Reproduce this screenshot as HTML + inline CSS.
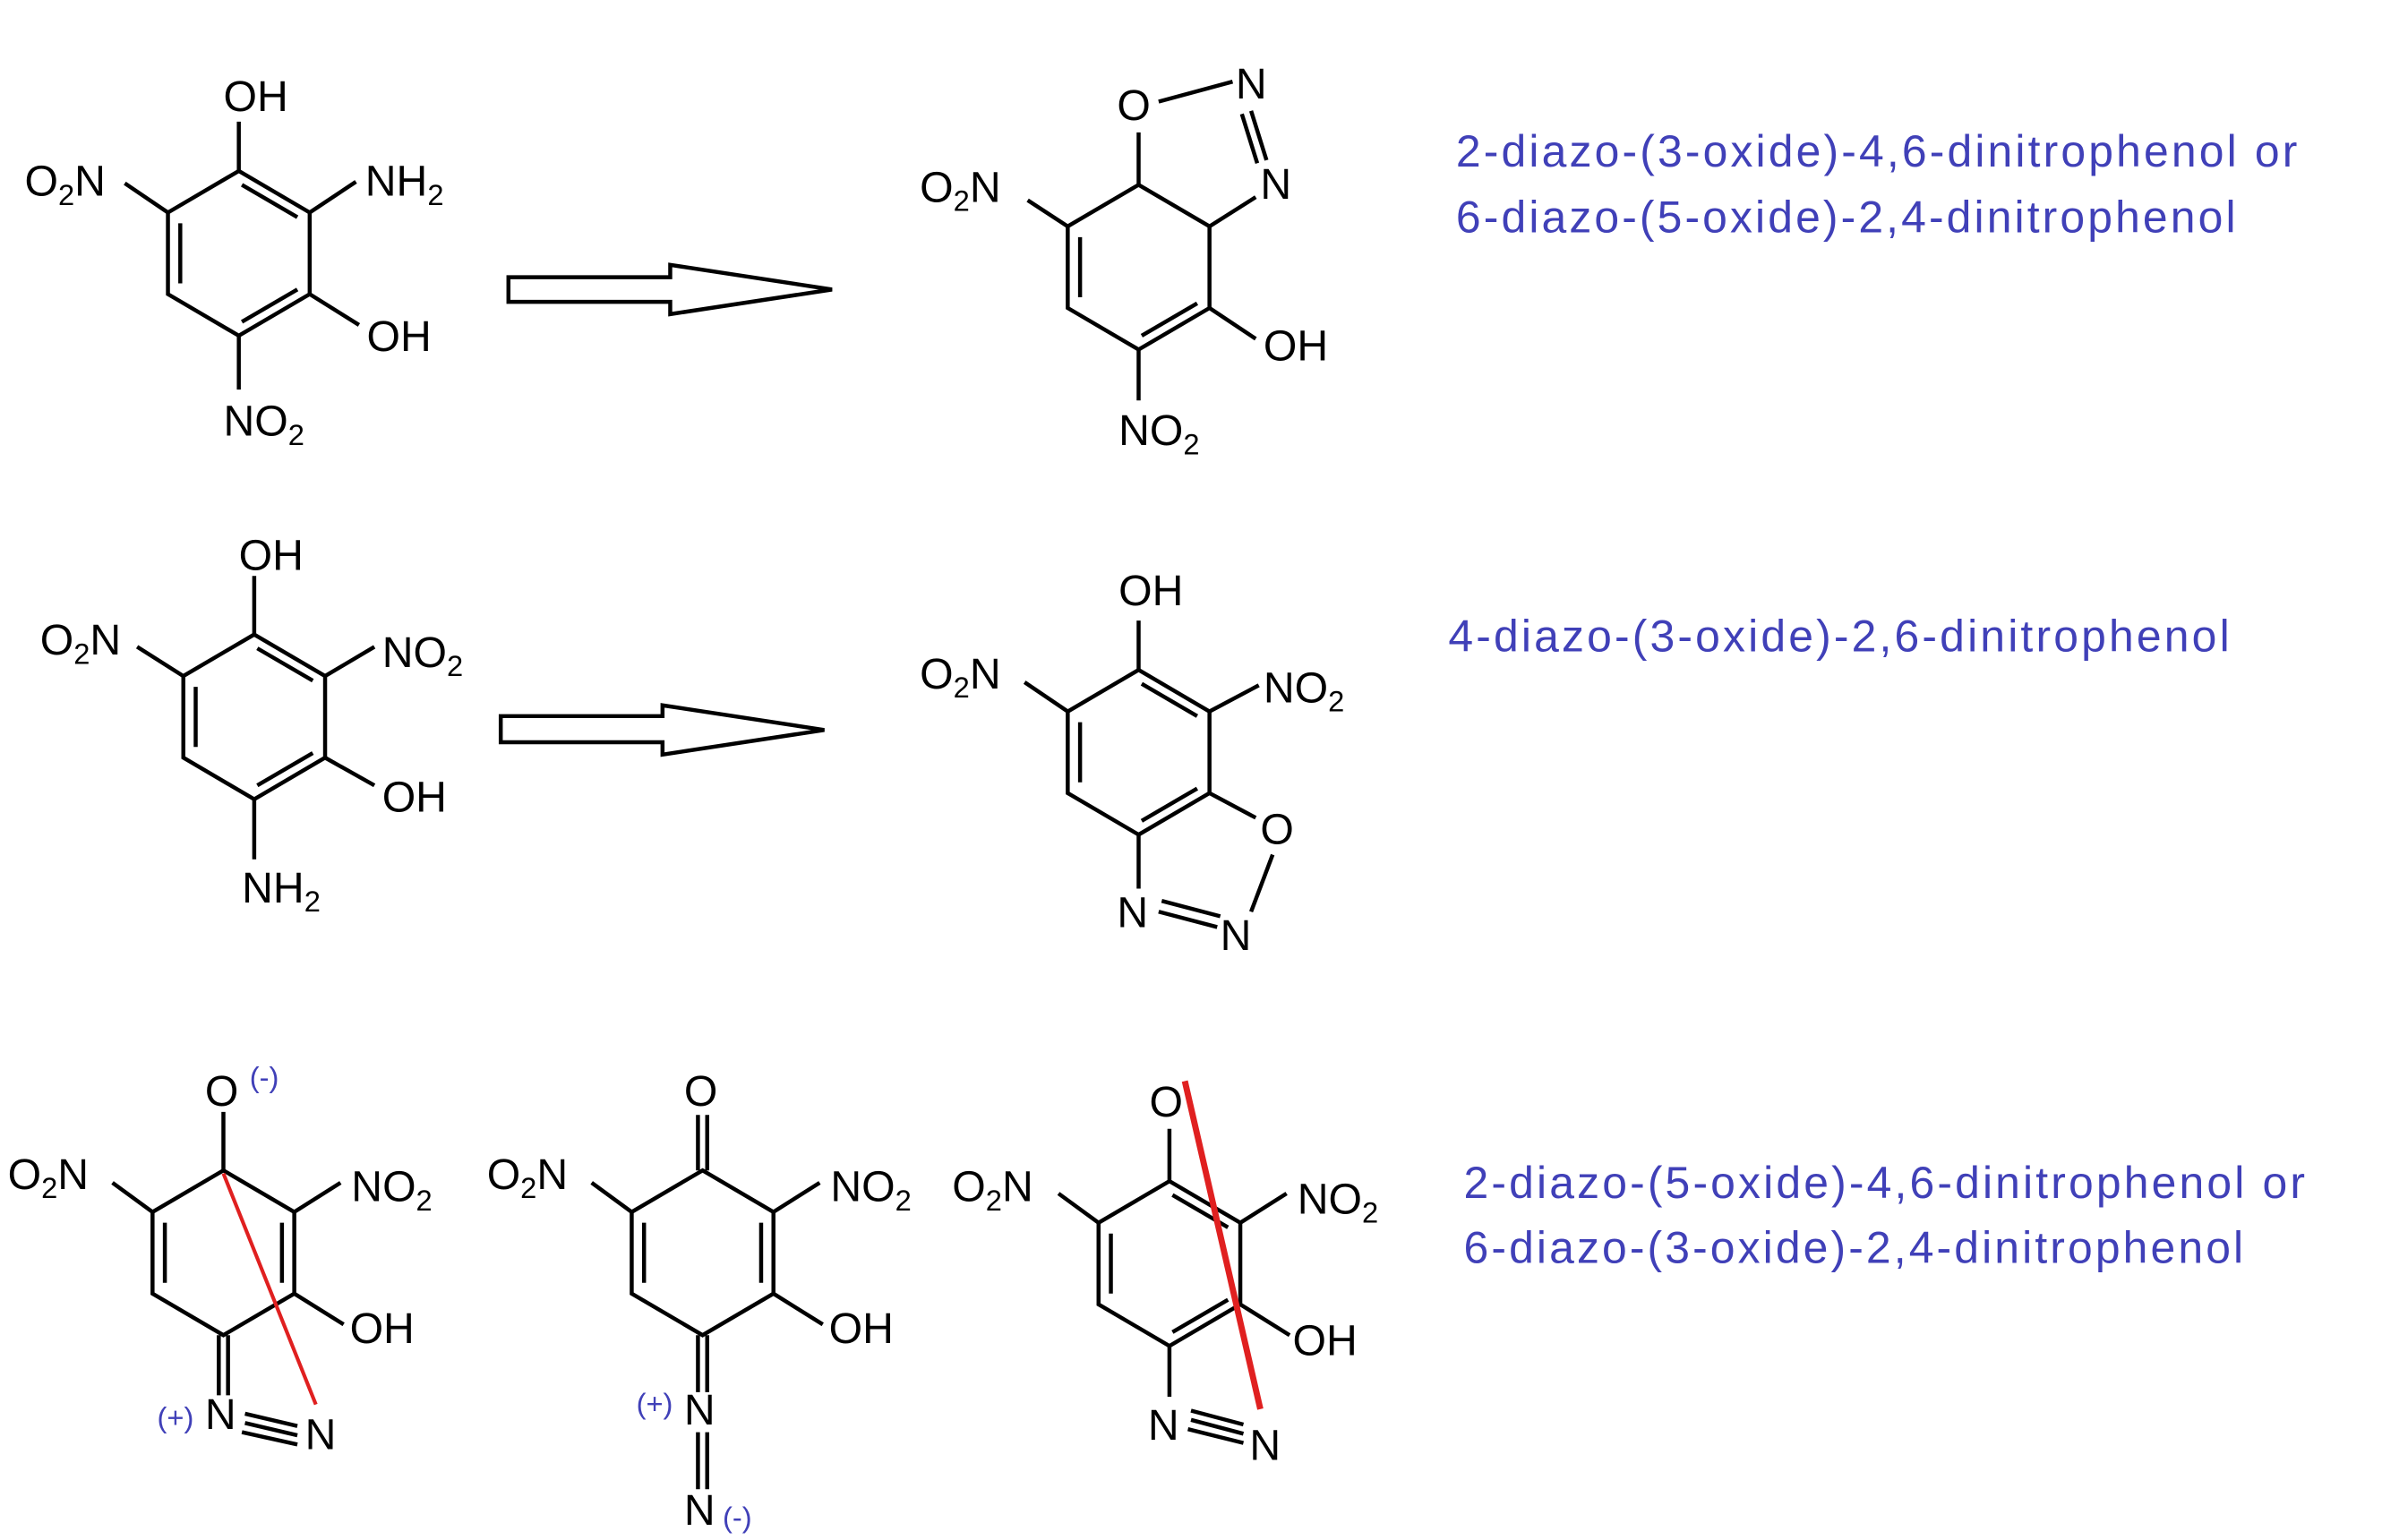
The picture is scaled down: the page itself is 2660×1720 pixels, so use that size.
<!DOCTYPE html>
<html><head><meta charset="utf-8"><style>
html,body{margin:0;padding:0;background:#fff;width:2660px;height:1720px;overflow:hidden}
svg{display:block}
.a{font-family:"Liberation Sans",sans-serif;font-size:28px;fill:#000}
.s{font-size:19px}
.b{font-family:"Liberation Sans",sans-serif;font-size:29px;fill:#4040b8}
.c{font-family:"Liberation Sans",sans-serif;font-size:19px;fill:#4040b8}
line,path,polyline{stroke:#000;stroke-width:2.6;fill:none}
</style></head><body>
<svg width="2660" height="1720" viewBox="0 0 1546 1000" preserveAspectRatio="none">
<defs>
<g id="ringA">
<path d="M0,0 L46,27 L46,80 L0,107 L-46,80 L-46,27 Z"/>
</g>
</defs>

<!-- Molecule 1 -->
<g transform="translate(155,111)">
<use href="#ringA"/>
<line x1="2" y1="9" x2="38" y2="30"/>
<line x1="38" y1="77" x2="2" y2="98"/>
<line x1="-38" y1="34" x2="-38" y2="73"/>
<line x1="0" y1="0" x2="0" y2="-32"/>
<line x1="-46" y1="27" x2="-74" y2="8"/>
<line x1="46" y1="27" x2="76" y2="7"/>
<line x1="46" y1="80" x2="78" y2="100"/>
<line x1="0" y1="107" x2="0" y2="142"/>
</g>
<text class="a" x="145" y="72">OH</text>
<text class="a" x="16" y="127">O<tspan class="s" dy="6">2</tspan><tspan dy="-6">N</tspan></text>
<text class="a" x="237" y="127">NH<tspan class="s" dy="6">2</tspan></text>
<text class="a" x="238" y="228">OH</text>
<text class="a" x="145" y="283">NO<tspan class="s" dy="6">2</tspan></text>

<!-- Arrow 1 -->
<path d="M330,180 L435,180 L435,172 L540,188 L435,204 L435,196 L330,196 Z"/>

<!-- Molecule 2 -->
<g transform="translate(739,120)">
<use href="#ringA"/>
<line x1="-38" y1="34" x2="-38" y2="73"/>
<line x1="38" y1="77" x2="2" y2="98"/>
<line x1="0" y1="0" x2="0" y2="-34"/>
<line x1="-46" y1="27" x2="-72" y2="10"/>
<line x1="46" y1="80" x2="76" y2="100"/>
<line x1="0" y1="107" x2="0" y2="140"/>
<line x1="46" y1="27" x2="76" y2="8"/>
</g>
<text class="a" x="725" y="78">O</text>
<text class="a" x="802" y="64">N</text>
<text class="a" x="818" y="129">N</text>
<line x1="752" y1="66" x2="800" y2="53"/>
<line x1="812" y1="72" x2="822" y2="104"/>
<line x1="806" y1="74" x2="816" y2="106"/>
<text class="a" x="597" y="131">O<tspan class="s" dy="6">2</tspan><tspan dy="-6">N</tspan></text>
<text class="a" x="820" y="234">OH</text>
<text class="a" x="726" y="289">NO<tspan class="s" dy="6">2</tspan></text>

<text class="b" x="945" y="108" textLength="546">2-diazo-(3-oxide)-4,6-dinitrophenol or</text>
<text class="b" x="945" y="151" textLength="506">6-diazo-(5-oxide)-2,4-dinitrophenol</text>

<!-- Molecule 3 -->
<g transform="translate(165,412)">
<use href="#ringA"/>
<line x1="2" y1="9" x2="38" y2="30"/>
<line x1="38" y1="77" x2="2" y2="98"/>
<line x1="-38" y1="34" x2="-38" y2="73"/>
<line x1="0" y1="0" x2="0" y2="-38"/>
<line x1="-46" y1="27" x2="-76" y2="8"/>
<line x1="46" y1="27" x2="78" y2="8"/>
<line x1="46" y1="80" x2="78" y2="98"/>
<line x1="0" y1="107" x2="0" y2="146"/>
</g>
<text class="a" x="155" y="370">OH</text>
<text class="a" x="26" y="425">O<tspan class="s" dy="6">2</tspan><tspan dy="-6">N</tspan></text>
<text class="a" x="248" y="433">NO<tspan class="s" dy="6">2</tspan></text>
<text class="a" x="248" y="527">OH</text>
<text class="a" x="157" y="586">NH<tspan class="s" dy="6">2</tspan></text>

<!-- Arrow 2 -->
<path d="M325,465 L430,465 L430,458 L535,474 L430,490 L430,482 L325,482 Z"/>

<!-- Molecule 4 -->
<g transform="translate(739,435)">
<use href="#ringA"/>
<line x1="2" y1="9" x2="38" y2="30"/>
<line x1="38" y1="77" x2="2" y2="98"/>
<line x1="-38" y1="34" x2="-38" y2="73"/>
<line x1="0" y1="0" x2="0" y2="-32"/>
<line x1="-46" y1="27" x2="-74" y2="8"/>
<line x1="46" y1="27" x2="78" y2="10"/>
<line x1="46" y1="80" x2="76" y2="96"/>
<line x1="0" y1="107" x2="0" y2="142"/>
</g>
<text class="a" x="726" y="393">OH</text>
<text class="a" x="597" y="447">O<tspan class="s" dy="6">2</tspan><tspan dy="-6">N</tspan></text>
<text class="a" x="820" y="456">NO<tspan class="s" dy="6">2</tspan></text>
<text class="a" x="818" y="548">O</text>
<text class="a" x="725" y="602">N</text>
<text class="a" x="792" y="617">N</text>
<line x1="826" y1="555" x2="812" y2="592"/>
<line x1="752" y1="592" x2="790" y2="602"/>
<line x1="754" y1="585" x2="792" y2="595"/>

<text class="b" x="940" y="423" textLength="507">4-diazo-(3-oxide)-2,6-dinitrophenol</text>

<!-- Molecule 5 -->
<g transform="translate(145,760)">
<use href="#ringA"/>
<line x1="38" y1="34" x2="38" y2="73"/>
<line x1="-38" y1="34" x2="-38" y2="73"/>
<line x1="0" y1="0" x2="0" y2="-38"/>
<line x1="-46" y1="27" x2="-72" y2="8"/>
<line x1="46" y1="27" x2="76" y2="8"/>
<line x1="46" y1="80" x2="78" y2="100"/>
<line x1="-3" y1="107" x2="-3" y2="146"/>
<line x1="3" y1="107" x2="3" y2="146"/>
<line x1="14" y1="164" x2="48" y2="172"/>
<line x1="12" y1="170" x2="48" y2="178"/>
<line x1="14" y1="158" x2="48" y2="166"/>
</g>
<text class="a" x="133" y="718">O</text>
<text class="c" x="162" y="706">(-)</text>
<text class="a" x="5" y="772">O<tspan class="s" dy="6">2</tspan><tspan dy="-6">N</tspan></text>
<text class="a" x="228" y="780">NO<tspan class="s" dy="6">2</tspan></text>
<text class="a" x="227" y="872">OH</text>
<text class="c" x="102" y="927">(+)</text>
<text class="a" x="133" y="928">N</text>
<text class="a" x="198" y="941">N</text>
<line x1="145" y1="762" x2="205" y2="912" style="stroke:#e02020;stroke-width:2.4"/>

<!-- Molecule 6 -->
<g transform="translate(456,760)">
<use href="#ringA"/>
<line x1="38" y1="34" x2="38" y2="73"/>
<line x1="-38" y1="34" x2="-38" y2="73"/>
<line x1="-3" y1="0" x2="-3" y2="-36"/>
<line x1="3" y1="0" x2="3" y2="-36"/>
<line x1="-46" y1="27" x2="-72" y2="8"/>
<line x1="46" y1="27" x2="76" y2="8"/>
<line x1="46" y1="80" x2="78" y2="100"/>
<line x1="-3" y1="107" x2="-3" y2="144"/>
<line x1="3" y1="107" x2="3" y2="144"/>
<line x1="-3" y1="170" x2="-3" y2="207"/>
<line x1="3" y1="170" x2="3" y2="207"/>
</g>
<text class="a" x="444" y="718">O</text>
<text class="a" x="316" y="772">O<tspan class="s" dy="6">2</tspan><tspan dy="-6">N</tspan></text>
<text class="a" x="539" y="780">NO<tspan class="s" dy="6">2</tspan></text>
<text class="a" x="538" y="872">OH</text>
<text class="c" x="413" y="918">(+)</text>
<text class="a" x="444" y="925">N</text>
<text class="a" x="444" y="990">N</text>
<text class="c" x="469" y="992">(-)</text>

<!-- Molecule 7 -->
<g transform="translate(759,767)">
<use href="#ringA"/>
<line x1="2" y1="9" x2="38" y2="30"/>
<line x1="38" y1="77" x2="2" y2="98"/>
<line x1="-38" y1="34" x2="-38" y2="73"/>
<line x1="0" y1="0" x2="0" y2="-34"/>
<line x1="-46" y1="27" x2="-72" y2="8"/>
<line x1="46" y1="27" x2="76" y2="8"/>
<line x1="46" y1="80" x2="78" y2="100"/>
<line x1="0" y1="107" x2="0" y2="140"/>
<line x1="14" y1="155" x2="48" y2="164"/>
<line x1="12" y1="161" x2="48" y2="170"/>
<line x1="14" y1="149" x2="48" y2="158"/>
</g>
<text class="a" x="746" y="725">O</text>
<text class="a" x="618" y="780">O<tspan class="s" dy="6">2</tspan><tspan dy="-6">N</tspan></text>
<text class="a" x="842" y="788">NO<tspan class="s" dy="6">2</tspan></text>
<text class="a" x="839" y="880">OH</text>
<text class="a" x="745" y="935">N</text>
<text class="a" x="811" y="948">N</text>
<line x1="769" y1="702" x2="818" y2="915" style="stroke:#e02020;stroke-width:4"/>

<text class="b" x="950" y="778" textLength="546">2-diazo-(5-oxide)-4,6-dinitrophenol or</text>
<text class="b" x="950" y="820" textLength="506">6-diazo-(3-oxide)-2,4-dinitrophenol</text>
</svg>
</body></html>
